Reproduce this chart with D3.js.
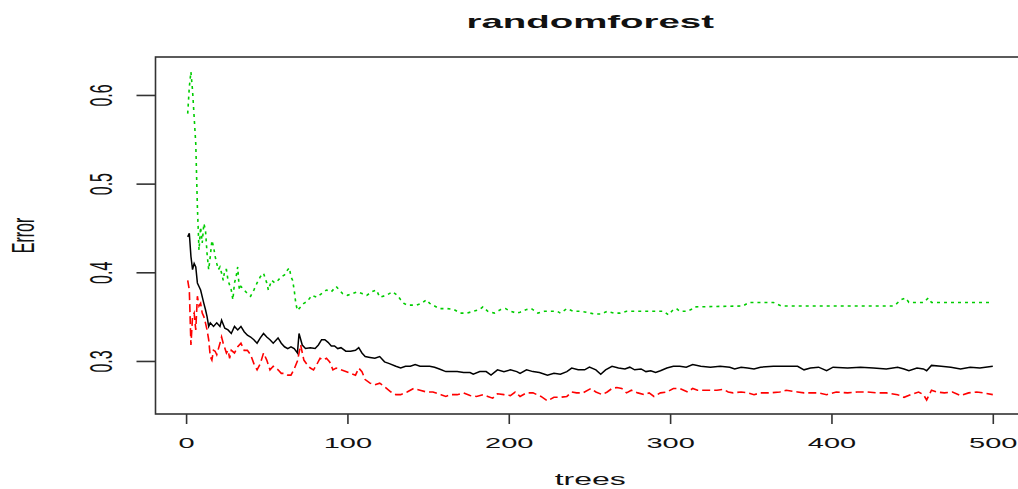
<!DOCTYPE html>
<html>
<head>
<meta charset="utf-8">
<script src="https://d3js.org/d3.v7.min.js"></script>
<style>
  body { margin: 0; background: #fff; }
  svg { display: block; font-family: "Liberation Sans", Arial, sans-serif; }
  .box { fill: none; stroke: #333; stroke-width: 1.6; }
  .tick line { stroke: #333; stroke-width: 1.6; }
</style>
</head>
<body>
<svg width="1018" height="489"></svg>
<script>
// OOB error (black, solid)
var oobTrees = [1,2,3,4,5,6,7,8,9,11,12,13,14,15,17,19,21,22,24,26,28,30,32,34,36,38,40,42,44,46,48,50,52,54,57,59,61,63,65,67,69,70,72,74,77,80,82,84,86,88,90,92,94,96,99,102,105,107,109,111,114,117,120,123,126,130,133,136,139,142,145,148,151,154,157,161,164,168,172,176,178,182,186,189,193,197,201,205,207,211,215,219,224,228,232,236,239,243,247,250,254,257,260,264,268,272,275,278,282,285,288,291,294,298,302,306,310,314,319,325,331,337,340,344,348,352,356,364,372,379,383,387,392,397,401,410,418,426,434,441,445,448,453,457,459,462,468,474,480,486,492,500];
var oobErr = [0.440,0.444,0.418,0.403,0.410,0.406,0.388,0.384,0.380,0.365,0.358,0.350,0.339,0.343,0.339,0.343,0.339,0.346,0.337,0.335,0.331,0.339,0.335,0.339,0.333,0.329,0.327,0.324,0.320,0.326,0.331,0.327,0.324,0.320,0.326,0.320,0.316,0.314,0.316,0.314,0.309,0.331,0.318,0.314,0.315,0.314,0.318,0.324,0.324,0.321,0.317,0.317,0.314,0.315,0.311,0.311,0.312,0.315,0.309,0.305,0.304,0.303,0.305,0.299,0.297,0.294,0.292,0.294,0.294,0.296,0.294,0.294,0.294,0.293,0.291,0.288,0.288,0.288,0.287,0.287,0.285,0.288,0.288,0.284,0.290,0.288,0.290,0.288,0.286,0.290,0.288,0.287,0.284,0.286,0.285,0.288,0.292,0.290,0.290,0.293,0.290,0.285,0.290,0.294,0.292,0.291,0.293,0.290,0.291,0.288,0.289,0.287,0.289,0.292,0.294,0.294,0.293,0.296,0.294,0.293,0.294,0.293,0.291,0.293,0.292,0.291,0.293,0.294,0.294,0.294,0.290,0.292,0.293,0.289,0.293,0.292,0.293,0.292,0.291,0.293,0.291,0.289,0.292,0.291,0.289,0.295,0.294,0.293,0.291,0.293,0.292,0.294];

// class 1 error (red, dashed)
var c1Trees = [1,2,3,4,5,6,7,8,9,10,11,12,13,14,15,16,17,18,19,21,22,23,25,26,27,28,30,32,34,36,38,40,42,44,46,48,50,52,54,57,59,61,63,65,67,69,71,73,75,77,79,81,83,85,87,89,91,93,96,99,102,105,107,109,111,114,117,120,123,127,130,133,137,141,145,149,153,158,161,164,168,172,176,180,184,187,190,193,197,201,204,207,211,215,220,224,228,232,236,239,242,246,251,254,258,261,264,267,270,273,276,280,284,287,290,294,298,302,306,311,314,317,321,325,329,333,336,339,344,348,352,356,362,368,372,379,383,387,392,397,403,410,416,422,428,434,441,445,449,454,457,459,462,465,470,475,480,485,490,494,500];
var c1Err = [0.391,0.380,0.318,0.350,0.354,0.335,0.373,0.362,0.365,0.354,0.350,0.343,0.335,0.324,0.305,0.301,0.312,0.311,0.307,0.320,0.327,0.320,0.309,0.312,0.303,0.312,0.309,0.316,0.320,0.312,0.312,0.307,0.297,0.290,0.297,0.309,0.301,0.290,0.294,0.290,0.286,0.286,0.284,0.284,0.291,0.300,0.318,0.301,0.296,0.292,0.290,0.296,0.303,0.301,0.303,0.299,0.290,0.292,0.290,0.288,0.286,0.284,0.292,0.288,0.279,0.275,0.273,0.275,0.271,0.265,0.262,0.262,0.265,0.269,0.267,0.265,0.265,0.262,0.260,0.262,0.262,0.264,0.261,0.260,0.262,0.260,0.258,0.263,0.262,0.261,0.265,0.260,0.264,0.264,0.260,0.255,0.259,0.259,0.260,0.265,0.264,0.264,0.269,0.265,0.262,0.265,0.269,0.270,0.269,0.264,0.267,0.264,0.262,0.264,0.260,0.264,0.265,0.269,0.269,0.265,0.269,0.267,0.267,0.267,0.267,0.268,0.265,0.264,0.265,0.264,0.262,0.264,0.264,0.265,0.267,0.265,0.264,0.264,0.264,0.262,0.265,0.264,0.265,0.265,0.264,0.264,0.262,0.259,0.262,0.265,0.262,0.256,0.267,0.265,0.264,0.265,0.261,0.264,0.265,0.264,0.262];

// class 2 error (green, dotted)
var c2Trees = [1,2,3,4,5,6,7,8,9,10,11,12,13,14,15,16,17,18,19,20,21,22,23,24,25,26,28,29,30,31,32,33,34,36,38,40,42,44,46,48,50,51,53,55,57,59,61,63,64,65,66,67,68,69,71,73,75,78,81,84,87,90,93,97,100,103,106,109,112,115,118,120,124,128,131,133,135,137,140,143,146,149,151,154,157,162,166,170,174,178,182,184,187,191,195,198,201,205,207,211,214,218,222,226,230,232,236,240,244,248,253,257,261,265,269,273,296,299,302,304,306,310,313,315,345,349,364,369,438,440,443,446,448,457,460,462,500];
var c2Err = [0.579,0.609,0.626,0.605,0.575,0.545,0.474,0.425,0.451,0.433,0.455,0.448,0.421,0.403,0.418,0.436,0.429,0.418,0.410,0.403,0.406,0.399,0.391,0.403,0.403,0.391,0.380,0.369,0.388,0.395,0.406,0.380,0.384,0.380,0.376,0.373,0.380,0.388,0.395,0.399,0.388,0.380,0.391,0.388,0.391,0.395,0.397,0.403,0.405,0.395,0.391,0.380,0.365,0.357,0.361,0.365,0.367,0.374,0.372,0.376,0.380,0.378,0.384,0.376,0.374,0.376,0.378,0.376,0.374,0.378,0.380,0.372,0.374,0.378,0.374,0.369,0.365,0.363,0.363,0.363,0.365,0.369,0.365,0.362,0.359,0.359,0.358,0.354,0.354,0.356,0.358,0.361,0.356,0.354,0.358,0.359,0.356,0.354,0.355,0.358,0.359,0.354,0.356,0.356,0.356,0.354,0.359,0.356,0.356,0.355,0.353,0.353,0.356,0.354,0.354,0.356,0.356,0.352,0.358,0.359,0.356,0.356,0.358,0.361,0.362,0.366,0.366,0.362,0.362,0.364,0.369,0.371,0.366,0.366,0.371,0.366,0.366];

var xTicks = [0, 100, 200, 300, 400, 500];
var yTicks = [0.3, 0.4, 0.5, 0.6];
var yLim = [0.2551, 0.6279];
var nTrees = 500;

var svg = d3.select("svg"),
    box = {left: 155.5, right: 1025, top: 57, bottom: 414},
    sx = 2; // the picture is stretched horizontally

// R style axis ranges: data range padded by 4% on each side
var xPad = 0.04 * (nTrees - 1),
    yPad = 0.04 * (yLim[1] - yLim[0]);

var x = d3.scaleLinear().domain([1 - xPad, nTrees + xPad]).range([box.left, box.right]),
    y = d3.scaleLinear().domain([yLim[0] - yPad, yLim[1] + yPad]).range([box.bottom, box.top]);

function series(trees, err) {
  return trees.map(function(t, i) { return [t, err[i]]; });
}

var line = d3.line()
  .x(function(d) { return x(d[0]); })
  .y(function(d) { return y(d[1]); });

svg.append("path")
  .datum(series(c2Trees, c2Err))
  .attr("d", line)
  .style("fill", "none")
  .style("stroke", "#00CD00")
  .style("stroke-width", 1.6)
  .style("stroke-dasharray", "3,4");

svg.append("path")
  .datum(series(c1Trees, c1Err))
  .attr("d", line)
  .style("fill", "none")
  .style("stroke", "#FF0000")
  .style("stroke-width", 1.6)
  .style("stroke-dasharray", "8,4");

svg.append("path")
  .datum(series(oobTrees, oobErr))
  .attr("d", line)
  .style("fill", "none")
  .style("stroke", "#000")
  .style("stroke-width", 1.5);

// frame
svg.append("rect")
  .attr("class", "box")
  .attr("x", box.left)
  .attr("y", box.top)
  .attr("width", box.right - box.left)
  .attr("height", box.bottom - box.top);

// x axis
var xa = svg.append("g")
  .attr("transform", "translate(0," + box.bottom + ")")
  .call(d3.axisBottom(x).tickValues(xTicks).tickSize(10).tickFormat(d3.format("d")));
xa.select(".domain").remove();
xa.selectAll("text")
  .attr("y", 0).attr("dy", null)
  .attr("transform", "translate(0,34) scale(" + sx + ",1)")
  .style("font-size", "14.5px")
  .style("fill", "#111");

// y axis
var ya = svg.append("g")
  .attr("transform", "translate(" + box.left + ",0)")
  .call(d3.axisLeft(y).tickValues(yTicks).tickSize(19).tickFormat(d3.format(".1f")));
ya.select(".domain").remove();
ya.selectAll("text")
  .attr("x", 0).attr("dy", null)
  .attr("text-anchor", "middle")
  .attr("transform", "translate(-44,0) scale(" + sx + ",1) rotate(-90)")
  .style("font-size", "16px")
  .style("fill", "#111");

// titles
svg.append("text")
  .attr("transform", "translate(" + ((box.left + box.right) / 2) + ",28) scale(" + sx + ",1)")
  .attr("text-anchor", "middle")
  .style("font-size", "19.2px")
  .style("font-weight", "bold")
  .style("fill", "#111")
  .text("randomforest");

svg.append("text")
  .attr("transform", "translate(" + ((box.left + box.right) / 2) + ",485) scale(" + sx + ",1)")
  .attr("text-anchor", "middle")
  .style("font-size", "16px")
  .style("fill", "#111")
  .text("trees");

svg.append("text")
  .attr("transform", "translate(34," + ((box.top + box.bottom) / 2) + ") scale(" + sx + ",1) rotate(-90)")
  .attr("text-anchor", "middle")
  .style("font-size", "16px")
  .style("fill", "#111")
  .text("Error");
</script>
</body>
</html>
